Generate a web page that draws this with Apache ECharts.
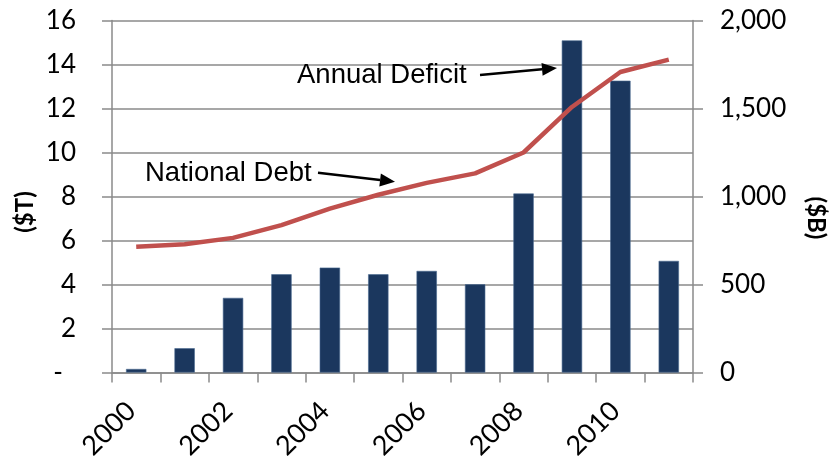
<!DOCTYPE html>
<html><head><meta charset="utf-8">
<script src="https://cdn.jsdelivr.net/npm/echarts@6/dist/echarts.min.js"></script>
<style>html,body{margin:0;padding:0;background:#fff}#c{width:832px;height:458px}</style>
</head><body><div id="c"></div>
<script>
const years = ['2000','2001','2002','2003','2004','2005','2006','2007','2008','2009','2010','2011'];
const deficitB = [20, 138, 424, 558, 596, 558, 577, 501, 1017, 1887, 1658, 634];
const debtT = [5.72, 5.83, 6.12, 6.7, 7.45, 8.08, 8.62, 9.05, 10.0, 12.07, 13.66, 14.22];
const leftTicks = {min: 0, max: 16, interval: 2};
const rightTicks = {min: 0, max: 2000, interval: 500};

const chart = echarts.init(document.getElementById('c'), null, {renderer: 'canvas'});
const grey = '#8a8a8a';
const font = 'Lato, "Open Sans", sans-serif';
const annFont = '"Liberation Sans", Arial, sans-serif';

function arrow(x1, y1, x2, y2) {
  const dx = x2 - x1, dy = y2 - y1, L = Math.hypot(dx, dy);
  const ux = dx / L, uy = dy / L, px = -uy, py = ux;
  const hl = 15, hw = 6.5;
  const bx = x2 - ux * hl, by = y2 - uy * hl;
  return [
    {type: 'line', shape: {x1: x1, y1: y1, x2: bx, y2: by}, style: {stroke: '#000', lineWidth: 2.5}, z: 10},
    {type: 'polygon', shape: {points: [[x2, y2], [bx + px * hw, by + py * hw], [bx - px * hw, by - py * hw]]}, style: {fill: '#000'}, z: 10}
  ];
}

const option = {
  animation: false,
  grid: {left: 112, right: 139, top: 20.5, bottom: 85.5, containLabel: false, outerBoundsMode: 'none'},
  xAxis: {
    type: 'category', data: years, boundaryGap: true,
    axisLine: {lineStyle: {color: grey, width: 1.5}},
    axisTick: {show: true, interval: 0, length: 10, lineStyle: {color: grey, width: 1.5}},
    axisLabel: {
      interval: 1, rotate: 45, margin: 29, color: '#000', fontSize: 27, fontFamily: font,
      formatter: v => '{y|' + v + '}',
      rich: {y: {fontSize: 27, fontFamily: font, color: '#000', padding: [0, 7, 0, 0]}}
    }
  },
  yAxis: [
    {
      type: 'value', min: leftTicks.min, max: leftTicks.max, interval: leftTicks.interval, position: 'left',
      axisLine: {show: true, lineStyle: {color: grey, width: 1.5}},
      axisTick: {show: true, length: 10, lineStyle: {color: grey, width: 1.5}},
      splitLine: {show: true, lineStyle: {color: grey, width: 1.5}},
      axisLabel: {
        margin: 36, color: '#000', fontSize: 26, fontFamily: font,
        formatter: v => v === 0 ? '{d|-}' : String(v),
        rich: {d: {fontSize: 26, fontFamily: font, color: '#000', padding: [0, 13, 0, 0]}}
      }
    },
    {
      type: 'value', min: rightTicks.min, max: rightTicks.max, interval: rightTicks.interval, position: 'right',
      axisLine: {show: true, lineStyle: {color: grey, width: 1.5}},
      axisTick: {show: true, length: 10, lineStyle: {color: grey, width: 1.5}},
      splitLine: {show: false},
      axisLabel: {
        margin: 27, color: '#000', fontSize: 26, fontFamily: font,
        formatter: v => v.toLocaleString('en-US')
      }
    }
  ],
  series: [
    {
      type: 'bar', yAxisIndex: 1, data: deficitB, barWidth: '42%',
      itemStyle: {color: '#1b375e', borderColor: '#4a6a90', borderWidth: 0.6}, z: 2
    },
    {
      type: 'line', yAxisIndex: 0, data: debtT, showSymbol: false, symbol: 'none',
      lineStyle: {color: '#c0504d', width: 4.5}, z: 3
    }
  ],
  graphic: [
    {type: 'text', x: 25, y: 212, rotation: Math.PI / 2, style: {text: '($T)', font: 'bold 24px ' + font, fill: '#000', textAlign: 'center', textVerticalAlign: 'middle'}},
    {type: 'text', x: 816, y: 218, rotation: -Math.PI / 2, style: {text: '($B)', font: 'bold 24px ' + font, fill: '#000', textAlign: 'center', textVerticalAlign: 'middle'}},
    {type: 'text', x: 145, y: 173, style: {text: 'National Debt', font: '27.5px ' + annFont, fill: '#000', textAlign: 'left', textVerticalAlign: 'middle'}, z: 10},
    {type: 'text', x: 297, y: 75.5, style: {text: 'Annual Deficit', font: '27.5px ' + annFont, fill: '#000', textAlign: 'left', textVerticalAlign: 'middle'}, z: 10},
    ...arrow(318, 172.7, 395, 181.7),
    ...arrow(480, 75, 557, 68)
  ]
};
chart.setOption(option);
</script></body></html>
